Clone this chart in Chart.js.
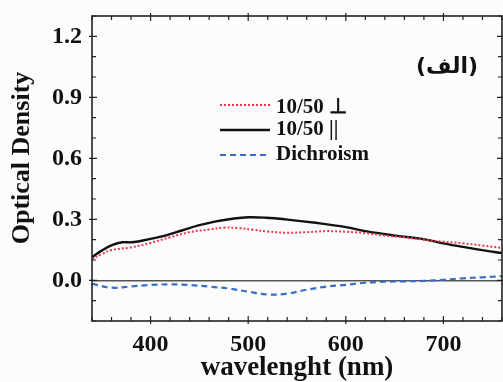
<!DOCTYPE html>
<html>
<head>
<meta charset="utf-8">
<script src="https://cdn.jsdelivr.net/npm/chart.js@4.4.1/dist/chart.umd.min.js"></script>
<style>
html,body{margin:0;padding:0;background:#fcfcfc;}
#wrap{width:503px;height:382px;position:relative;}
</style>
</head>
<body>
<div id="wrap"><canvas id="c" width="503" height="382"></canvas></div>
<script>
// ---- data ----
const wavelengthPerp = [340,350,360,380,400,420,440,460,475,490,505,520,540,560,580,600,620,640,660,680,700,720,740,760];
const odPerp = [0.104,0.129,0.149,0.162,0.184,0.212,0.237,0.250,0.259,0.257,0.249,0.240,0.234,0.237,0.242,0.239,0.232,0.220,0.212,0.200,0.190,0.182,0.171,0.159];

const wavelengthPar = [340,350,361,371,381,400,415,432,449,467,484,500,518,538,569,600,620,651,678,700,723,743,760];
const odPar = [0.113,0.146,0.174,0.187,0.187,0.204,0.220,0.245,0.270,0.290,0.303,0.310,0.308,0.300,0.283,0.262,0.242,0.220,0.204,0.182,0.162,0.146,0.134];

const wavelengthDich = [340,360,380,400,420,440,460,480,500,520,540,560,580,600,620,640,660,680,700,720,740,760];
const odDich = [-0.017,-0.036,-0.030,-0.023,-0.020,-0.023,-0.031,-0.040,-0.056,-0.070,-0.065,-0.046,-0.031,-0.022,-0.012,-0.007,-0.005,-0.003,0.003,0.010,0.015,0.020];

const seriesLabels = ['10/50 \u22A5', '10/50 ||', 'Dichroism'];
const xTickLabels = [400, 500, 600, 700];
const yTickLabels = [0.0, 0.3, 0.6, 0.9, 1.2];
const panelLabel = '(\u0627\u0644\u0641)';
const xTitle = 'wavelenght (nm)';
const yTitle = 'Optical Density';

const toPts = (xs, ys) => xs.map((x, i) => ({x: x, y: ys[i]}));

const SERIF = '"Liberation Serif", "Times New Roman", serif';

const decor = {
  id: 'decor',
  beforeDraw(chart) {
    const ctx = chart.ctx;
    ctx.save();
    ctx.fillStyle = '#fcfcfc';
    ctx.fillRect(0, 0, chart.width, chart.height);
    ctx.restore();
  },
  afterDraw(chart) {
    const ctx = chart.ctx;
    const a = chart.chartArea;
    const xs = chart.scales.x, ys = chart.scales.y;
    ctx.save();
    // frame
    ctx.strokeStyle = '#222';
    ctx.lineWidth = 1.6;
    ctx.strokeRect(a.left, a.top, a.right - a.left, a.bottom - a.top);
    // ticks (inward; major ones cross the axis)
    ctx.lineWidth = 1.2;
    ctx.beginPath();
    for (let v = xs.min; v <= xs.max + 1e-6; v += 20) {
      const px = xs.getPixelForValue(v);
      const major = (Math.round(v) % 100 === 0);
      const len = major ? 5 : 4;
      const out = major ? 3 : 0;
      ctx.moveTo(px, a.bottom + out); ctx.lineTo(px, a.bottom - len);
      ctx.moveTo(px, a.top - out); ctx.lineTo(px, a.top + len);
    }
    for (let k = -2; k <= 13; k++) {
      const v = k / 10;
      const py = ys.getPixelForValue(v);
      const major = (k % 3 === 0);
      const len = major ? 5 : 4;
      const out = major ? 3 : 0;
      ctx.moveTo(a.left - out, py); ctx.lineTo(a.left + len, py);
      ctx.moveTo(a.right + out, py); ctx.lineTo(a.right - len, py);
    }
    ctx.stroke();

    // y title
    ctx.fillStyle = '#111';
    ctx.font = 'bold 26px ' + SERIF;
    ctx.textAlign = 'center';
    ctx.textBaseline = 'middle';
    ctx.translate(22, 158);
    ctx.rotate(-Math.PI / 2);
    ctx.fillText(yTitle, 0, 0);
    ctx.setTransform(1, 0, 0, 1, 0, 0);

    // panel label
    ctx.font = 'bold 22px "DejaVu Sans", sans-serif';
    ctx.textAlign = 'center';
    ctx.textBaseline = 'middle';
    ctx.fillText(panelLabel, 447, 67);

    // legend
    const rows = [105, 130, 155];
    chart.data.datasets.forEach((ds, i) => {
      const y = rows[i];
      ctx.strokeStyle = ds.borderColor;
      ctx.lineWidth = ds.borderWidth;
      ctx.setLineDash(ds.borderDash || []);
      ctx.beginPath();
      ctx.moveTo(220, y); ctx.lineTo(270, y);
      ctx.stroke();
      ctx.setLineDash([]);
      ctx.fillStyle = '#111';
      ctx.font = 'bold 21px ' + SERIF;
      ctx.textAlign = 'left';
      ctx.textBaseline = 'middle';
      ctx.fillText(ds.label, 276, y + (i === 0 ? 3 : 0));
    });
    ctx.restore();
  }
};

new Chart(document.getElementById('c'), {
  type: 'line',
  data: {
    datasets: [
      {label: seriesLabels[0], data: toPts(wavelengthPerp, odPerp), borderColor: '#e8394a', borderWidth: 2, borderDash: [2, 2], pointRadius: 0, tension: 0.4, fill: false},
      {label: seriesLabels[1], data: toPts(wavelengthPar, odPar), borderColor: '#111111', borderWidth: 2.4, pointRadius: 0, tension: 0.4, fill: false},
      {label: seriesLabels[2], data: toPts(wavelengthDich, odDich), borderColor: '#3a6ec6', borderWidth: 2.2, borderDash: [6, 4], pointRadius: 0, tension: 0.4, fill: false}
    ]
  },
  options: {
    responsive: false,
    animation: false,
    events: [],
    layout: {padding: {left: 0, right: 1, top: 16, bottom: 0}},
    plugins: {legend: {display: false}, tooltip: {enabled: false}},
    scales: {
      x: {
        type: 'linear', min: 340, max: 760,
        ticks: {
          stepSize: 20, autoSkip: false, maxRotation: 0, padding: 9, color: '#111',
          font: {family: SERIF, size: 24, weight: 'bold'},
          callback: v => xTickLabels.includes(Math.round(v)) ? String(Math.round(v)) : ''
        },
        grid: {display: false, drawTicks: false},
        border: {display: false},
        title: {display: true, text: xTitle, color: '#111', font: {family: SERIF, size: 27, weight: 'bold'}, padding: {top: 0, bottom: -2}},
        afterFit: s => { s.height = 61; s.paddingRight = 0; s.paddingLeft = 0; }
      },
      y: {
        type: 'linear', min: -0.2, max: 1.3,
        ticks: {
          stepSize: 0.1, autoSkip: false, padding: 10, color: '#111',
          font: {family: SERIF, size: 24, weight: 'bold'},
          callback: v => { const r = Math.round(v * 10); return yTickLabels.some(t => Math.round(t * 10) === r) ? (r / 10).toFixed(1) : ''; }
        },
        grid: {
          drawTicks: false,
          color: c => (c.tick && Math.abs(c.tick.value) < 1e-9) ? '#555' : 'rgba(0,0,0,0)',
          lineWidth: 1.5
        },
        border: {display: false},
        afterFit: s => { s.width = 92; s.paddingTop = 0; s.paddingBottom = 0; }
      }
    }
  },
  plugins: [decor]
});
</script>
</body>
</html>
